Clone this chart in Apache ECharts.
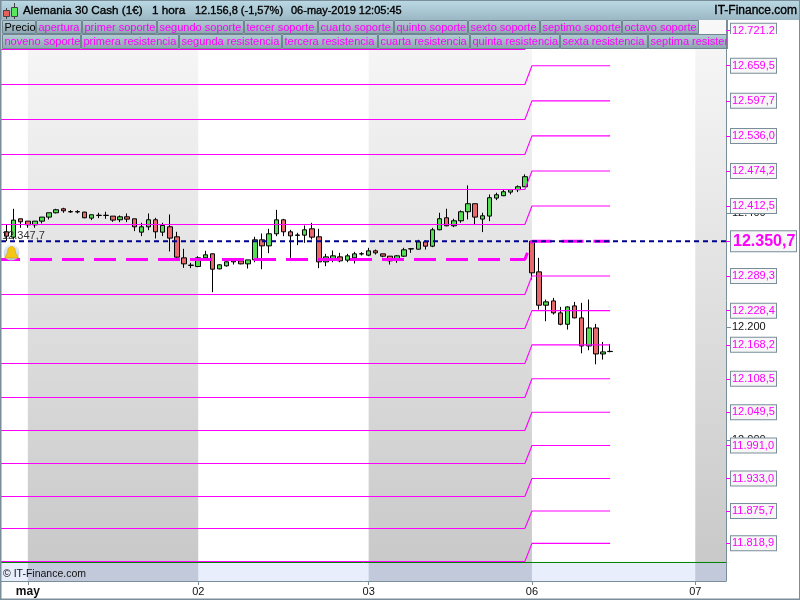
<!DOCTYPE html>
<html><head><meta charset="utf-8">
<style>html,body{margin:0;padding:0;background:#fff}#c{width:800px;height:600px}</style>
<script src="https://cdn.jsdelivr.net/npm/echarts@6/dist/echarts.min.js"></script>
</head><body><div id="c"></div>
<script>
// open, close, low, high
const candlesPrev = [
 [12367.2,12359.6,12350.8,12380.1],[12357.8,12387.8,12353.7,12407.7],[12390.1,12384.8,12374.3,12390.1]];
const candlesMay01 = [
 [12386,12379.5,12374.3,12386],[12379.5,12386,12374.3,12386],[12386,12393.1,12381.9,12393.1],
 [12393.1,12400.7,12388.9,12400.7],[12400.7,12406,12399.5,12407.7],[12407.7,12404.2,12400.7,12409.5],
 [12402.8,12402.2,12400.7,12405.4],[12402.2,12402.8,12399.5,12405.4],[12401.9,12391.9,12391.2,12402.5],
 [12391.3,12397.2,12387.8,12397.2],[12396,12396.4,12391.3,12400.7],[12396.3,12396,12390.1,12402.5],
 [12394.8,12387.8,12384.8,12394.8],[12388.4,12393.6,12384.2,12396],[12393.6,12389.5,12384.2,12399.5],
 [12390.1,12376,12368.4,12390.1],[12366.6,12376,12359.6,12383.1],[12376,12388.4,12370.1,12399.5],
 [12388.4,12367.2,12355.5,12391.9],[12366.6,12378.4,12359.6,12383.1],[12376,12356.1,12332.6,12397.8],
 [12358.4,12322.6,12321.4,12367.2],[12321.4,12310.8,12303.8,12337.3],[12308.5,12308.1,12303.2,12312.6]];
const candlesMay02 = [
 [12306.1,12321.4,12305,12324.3],[12321.4,12326.7,12321,12333.7],[12328.5,12301.4,12260.9,12329],
 [12302,12309.1,12301,12310],[12307.3,12314.4,12306,12315],[12317.3,12314.3,12309.6,12318],
 [12316.1,12310.8,12310,12316.5],[12310.8,12317.8,12302.6,12318],[12317.8,12353.1,12313.7,12358.4],
 [12353.1,12342.5,12301.4,12364.2],[12342.5,12363.7,12329.6,12372.5],[12363.7,12388.3,12359.5,12405.9],
 [12388.3,12367.2,12359.5,12390],[12367.2,12360.1,12321.4,12370.7],[12361.6,12361,12343.7,12365.4],
 [12361.3,12370.7,12347.8,12378.3],[12372.5,12357.8,12353.7,12383],[12358.4,12314.3,12303.2,12372.5],
 [12314.3,12323.1,12306.7,12328.4],[12318.4,12324.9,12313.7,12334.3],[12323.1,12316.1,12313.7,12330.2],
 [12317.3,12324.9,12313.7,12328.4],[12321.4,12328.4,12311.4,12331.9],[12328.2,12328.6,12325.5,12331.4]];
const candlesMay03 = [
 [12326.1,12333.7,12324.3,12339],[12333.7,12330.2,12327.2,12336],[12328.4,12324.3,12322.5,12328.4],
 [12324.3,12316.1,12309.6,12324.3],[12317.3,12324.9,12312.6,12326],[12324.3,12335.5,12323,12339],
 [12337.4,12337,12330.2,12337.5],[12336.6,12349.6,12336,12353.1],[12349.6,12341.9,12336,12351.9],
 [12341.9,12370.7,12340.2,12374.2],[12370.8,12390.2,12370,12400.7],[12391.9,12377.8,12377,12407.8],
 [12377.8,12386.6,12375.5,12390.2],[12386.6,12402.5,12383.1,12404.8],[12402.5,12416.6,12389,12448.9],
 [12416.6,12393.1,12379,12417],[12389.6,12395.4,12366.7,12400.7],[12394.9,12427.2,12386,12433],
 [12426.6,12432.4,12423,12436],[12430.7,12437.7,12430,12441.8],[12437.1,12441.3,12433,12441.3],
 [12441.3,12446.5,12437.1,12448.9],[12446.5,12464.2,12446,12468.3]];
const candlesMay06 = [
 [12350.7,12295,12283.2,12352],[12296.7,12238,12230.3,12321.4],[12238,12243.9,12209.8,12248],
 [12245.6,12224.5,12221.5,12250.9],[12224.5,12204.5,12202.7,12235],[12204.5,12235,12195.1,12236],
 [12236.8,12215.7,12215,12243.9],[12215.7,12166.3,12153.4,12242.1],[12166.3,12198,12158.7,12248],
 [12198,12152.2,12134,12205.1],[12152.2,12155.8,12142.3,12173.4],[12156.4,12156.8,12155.2,12169.9]];

const levelNames = ['sexta','quinta','cuarta','tercera','segunda','primera','apertura','s1','s2','s3','s4','s5','s6','s7','s8','s9'];
const levelsPrior = [12688.1,12626.5,12564.9,12503.3,12441.7,12380.1,12318.5,12256.9,12197,12135.4,12075.6,12017.5,11959.4,11901.4,11845,11787];
const levelsToday = [12721.2,12659.5,12597.7,12536,12474.2,12412.5,12350.7,12289.3,12228.4,12168.2,12108.5,12049.5,11991,11933,11875.7,11818.9];
const levelLabels = ['12.721,2','12.659,5','12.597,7','12.536,0','12.474,2','12.412,5','12.350,7','12.289,3','12.228,4','12.168,2','12.108,5','12.049,5','11.991,0','11.933,0','11.875,7','11.818,9'];
const priceTicks = [12000,12200,12400];
const priceTickLabels = ['12.000','12.200','12.400'];
const dayTicks = [3,27,51,74,97];
const dayLabels = ['may','02','03','06','07'];
const levelBreak = [73,74];
const lastBar = 85;
const prevClose = 12350.7;
const baseLine = 11785.2;
const tabsRow1 = ['Precio','apertura','primer soporte','segundo soporte','tercer soporte','cuarto soporte','quinto soporte','sexto soporte','septimo soporte','octavo soporte'];
const tabsRow2 = ['noveno soporte','primera resistencia','segunda resistencia','tercera resistencia','cuarta resistencia','quinta resistencia','sexta resistencia','septima resistencia'];

// layout (chrome only)
const tabEdges1 = [2,36,82,157,244,318,394,468,540,622,699];
const tabEdges2 = [2,81,179,282,378,470,560,648,727];
const X_MIN = -0.78, X_MAX = 101.33, Y_MIN = 11752.6, Y_MAX = 12740;
const sessionBands = [[3,27],[51,74],[97,X_MAX]];
const FONT = '"Liberation Sans", Arial, sans-serif';
const SLATE = '#7a8e99';
const MAG = '#ff00ff';

const allCandles = [...candlesPrev,...candlesMay01,...candlesMay02,...candlesMay03,...candlesMay06];
const candleData = allCandles.map((r,i)=>[i,r[0],r[1],r[2],r[3]]);

const grad = (a,b)=>({type:'linear',x:0,y:0,x2:0,y2:1,colorStops:[{offset:0,color:a},{offset:1,color:b}]});
const areas = [];
sessionBands.forEach(b=>areas.push([{xAxis:b[0],yAxis:Y_MAX,itemStyle:{color:grad('#f8f8f8','#c9c9c9')}},{xAxis:b[1],yAxis:baseLine}]));
areas.push([{xAxis:X_MIN,yAxis:baseLine,itemStyle:{color:'#e8eefc'}},{xAxis:X_MAX,yAxis:Y_MIN}]);
sessionBands.forEach(b=>areas.push([{xAxis:b[0],yAxis:baseLine,itemStyle:{color:'#c2c9da'}},{xAxis:b[1],yAxis:Y_MIN}]));

const levelSeries = levelNames.map((n,i)=>{
  const open = n==='apertura';
  return {name:n,type:'line',xAxisIndex:0,yAxisIndex:0,z:5,silent:true,showSymbol:false,symbol:'none',animation:false,
    data:[[X_MIN,levelsPrior[i]],[levelBreak[0],levelsPrior[i]],[levelBreak[1],levelsToday[i]],[lastBar,levelsToday[i]]],
    lineStyle:{color:MAG,width:open?3:1.1,type:open?[22,10]:'solid',dashOffset:open?3:0}};
});

const g = [];
function rect(x,y,w,h,fill,stroke,z){g.push({type:'rect',z:z||100,silent:true,shape:{x,y,width:w,height:h},style:{fill,stroke:stroke||null,lineWidth:stroke?1:0}})}
function text(x,y,t,font,fill,align,heavy){g.push({type:'text',z:102,silent:true,x,y,style:{text:t,font,fill,align:align||'left',verticalAlign:'middle',stroke:heavy?fill:null,lineWidth:heavy?.35:0}})}
// header
rect(0,0,800,20,grad('#bcd9e6','#9ab7c3'));
rect(0,0,800,1,SLATE);
text(23,11,'Alemania 30 Cash (1€)','11.7px '+FONT,'#000','left',true);
text(152,11,'1 hora','11.7px '+FONT,'#000','left',true);
text(195,11,'12.156,8 (-1,57%)','11px '+FONT,'#000','left',true);
text(291,11,'06-may-2019 12:05:45','11px '+FONT,'#000','left',true);
text(797,11,'IT-Finance.com','12px '+FONT,'#000','right',true);
// candles icon
g.push({type:'line',z:101,silent:true,shape:{x1:6.5,y1:8,x2:6.5,y2:19},style:{stroke:'#444'}});
g.push({type:'line',z:101,silent:true,shape:{x1:14.5,y1:3,x2:14.5,y2:19},style:{stroke:'#444'}});
g.push({type:'rect',z:101,silent:true,shape:{x:3.5,y:10.5,width:6,height:6},style:{fill:'#e8605c',stroke:'#444'}});
g.push({type:'rect',z:101,silent:true,shape:{x:11.5,y:7.5,width:6,height:9},style:{fill:'#5ae65a',stroke:'#444'}});
// tabs
function tabs(names,edges,y,h){
  names.forEach((n,i)=>{
    rect(edges[i]+.5,y+.5,edges[i+1]-edges[i]-1,h-1,grad('#b5cdd6','#8ba4af'),'#6f8590');
    text(edges[i]+2.5,y+h/2+.5,n,'11px '+FONT,n==='Precio'?'#000':MAG);
  });
}
tabs(tabsRow1,tabEdges1,20,14);
tabs(tabsRow2,tabEdges2,34,15);
// cover the part of the last tab's text that runs past the plot
rect(728,34,71,15,'#fff',null,103);
g.push({type:'line',z:104,silent:true,shape:{x1:727.5,y1:20,x2:727.5,y2:49},style:{stroke:SLATE}});
// annotations
text(2,236,'12.347,7','11px '+FONT,'#333');
text(3,574,'© IT-Finance.com','10.5px '+FONT,'#111');
// bell
g.push({type:'circle',z:20,silent:true,shape:{cx:11.5,cy:252.5,r:8},style:{fill:grad('#eef3f7','#b8c8d4')}});
g.push({type:'polygon',z:21,silent:true,shape:{points:[[4.5,258],[7.5,253],[8,248.5],[10.5,246.5],[12.5,246.5],[15,248.5],[15.5,253],[18.5,258]]},style:{fill:'#f5c518',stroke:'#c99a00',lineWidth:.5}});
// frame
rect(0,0,1.5,600,SLATE);rect(799,0,1,600,SLATE);rect(0,598.5,800,1.5,SLATE);

const chart = echarts.init(document.getElementById('c'),null,{renderer:'canvas'});
chart.setOption({
  animation:false,backgroundColor:'#fff',
  grid:{left:1,top:20,width:726,height:561,containLabel:false},
  xAxis:{type:'value',min:X_MIN,max:X_MAX,splitLine:{show:false},
    axisLine:{show:true,onZero:false,lineStyle:{color:SLATE,width:1}},
    axisTick:{show:true,length:4,lineStyle:{color:SLATE},customValues:dayTicks},
    axisLabel:{margin:5,color:'#111',fontFamily:FONT,fontSize:11,customValues:dayTicks,hideOverlap:false,showMinLabel:true,showMaxLabel:true,
      formatter:v=>{const s=dayLabels[dayTicks.indexOf(v)];return s==='may'?'{b|may}':s;},
      rich:{b:{fontWeight:'bold',fontSize:12,fontFamily:FONT,color:'#111'}}}},
  yAxis:[
   {type:'value',position:'right',min:Y_MIN,max:Y_MAX,splitLine:{show:false},z:2,
    axisLine:{show:true,onZero:false,lineStyle:{color:SLATE}},
    axisTick:{show:true,length:5,lineStyle:{color:SLATE},customValues:priceTicks},
    axisLabel:{margin:6,color:'#111',fontFamily:FONT,fontSize:11,customValues:priceTicks,
      formatter:v=>priceTickLabels[priceTicks.indexOf(v)]}},
   {type:'value',position:'right',min:Y_MIN,max:Y_MAX,splitLine:{show:false},z:4,
    axisLine:{show:false,onZero:false},
    axisTick:{show:true,length:5,lineStyle:{color:MAG},customValues:levelsToday},
    axisLabel:{margin:5,fontFamily:FONT,customValues:levelsToday,hideOverlap:false,
      formatter:v=>{const i=levelsToday.indexOf(v);return (v===prevClose?'{m|':'{n|')+levelLabels[i]+'}';},
      rich:{
        n:{color:MAG,fontSize:11,fontFamily:FONT,backgroundColor:'#f6f6f6',borderColor:SLATE,borderWidth:1,padding:[1,1,1,1],width:43,height:12,lineHeight:12,align:'left'},
        m:{color:MAG,fontSize:16,fontWeight:'bold',fontFamily:FONT,backgroundColor:'#f6f6f6',borderColor:SLATE,borderWidth:1,padding:[1,2,1,2],width:61,height:18,lineHeight:18,align:'left'}
      }}}
  ],
  graphic:{elements:g},
  series:[
   {name:'fondo',type:'line',z:1,silent:true,showSymbol:false,symbol:'none',
    data:[[X_MIN,baseLine],[X_MAX,baseLine]],lineStyle:{color:'#008000',width:1},
    markArea:{silent:true,z:0,data:areas}},
   {name:'Precio',type:'candlestick',z:3,silent:true,barWidth:5,data:candleData,
    itemStyle:{color:'#55dd55',color0:'#e8696b',borderColor:'#000',borderColor0:'#000',borderWidth:1}},
   ...levelSeries,
   {name:'cierre',type:'line',z:6,silent:true,showSymbol:false,symbol:'none',
    data:[[X_MIN,prevClose],[X_MAX,prevClose]],lineStyle:{color:'#000090',width:2,type:[5,4]}}
  ]
});
</script></body></html>
